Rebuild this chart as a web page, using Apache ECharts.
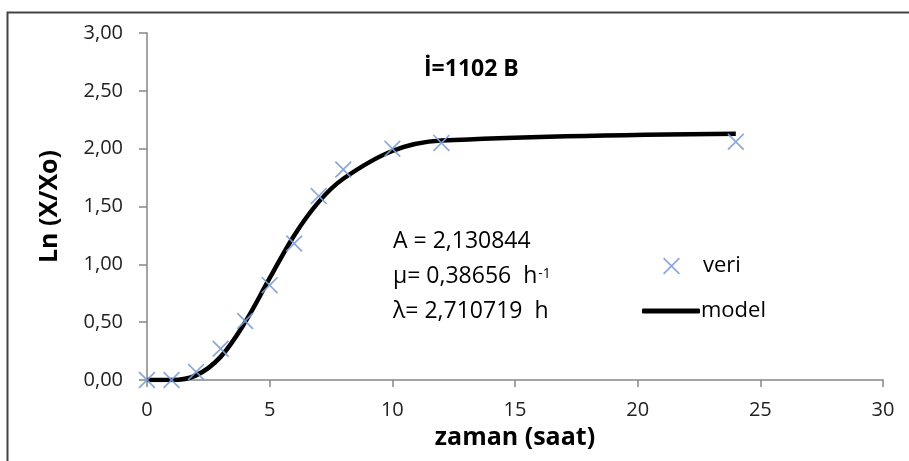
<!DOCTYPE html>
<html lang="tr">
<head>
    <meta charset="UTF-8">
    <title>Ln (X/Xo)</title>
    <script src="https://cdn.jsdelivr.net/npm/echarts@6/dist/echarts.min.js"></script>
    <style>
        html, body { margin: 0; padding: 0; background: #fff; }
        #main { width: 909px; height: 461px; }
    </style>
</head>
<body>
<div id="main"></div>
<script type="text/javascript">
    // zaman (saat)
    var zaman = [0, 1, 2, 3, 4, 5, 6, 7, 8, 10, 12, 24];
    // veri - measured points
    var veri = [0.00, 0.00, 0.07, 0.27, 0.51, 0.82, 1.18, 1.59, 1.82, 2.00, 2.05, 2.06];
    // model - fitted curve read at the same times
    var model = [0.00, 0.00, 0.04, 0.20, 0.50, 0.88, 1.25, 1.54, 1.74, 1.98, 2.07, 2.13];

    var xTicks = [0, 5, 10, 15, 20, 25, 30];
    var yTicks = [0, 0.5, 1, 1.5, 2, 2.5, 3];

    var veriData = zaman.map(function (t, i) { return [t, veri[i]]; });
    var modelData = zaman.map(function (t, i) { return [t, model[i]]; });

    var crossPath = 'path://M0,0.7L0.7,0L5,4.3L9.3,0L10,0.7L5.7,5L10,9.3L9.3,10L5,5.7L0.7,10L0,9.3L4.3,5Z';
    var fontFam = '"Open Sans", Lato, sans-serif';

    var myChart = echarts.init(document.getElementById('main'), null, { renderer: 'canvas' });

    var option = {
        backgroundColor: '#fff',
        animation: false,
        grid: { left: 147, right: 26, top: 33, bottom: 81 },
        xAxis: {
            type: 'value',
            min: xTicks[0],
            max: xTicks[xTicks.length - 1],
            interval: 5,
            name: 'zaman (saat)',
            nameLocation: 'middle',
            nameGap: 44,
            nameTextStyle: { fontFamily: fontFam, fontWeight: 'bold', fontSize: 25, color: '#000' },
            axisLine: { lineStyle: { color: '#868686', width: 1.5 } },
            axisTick: { show: true, length: 7, lineStyle: { color: '#868686', width: 1.5 } },
            axisLabel: { fontFamily: fontFam, fontSize: 20, color: '#222', margin: 20 },
            splitLine: { show: false }
        },
        yAxis: {
            type: 'value',
            min: yTicks[0],
            max: yTicks[yTicks.length - 1],
            interval: 0.5,
            name: 'Ln (X/Xo)',
            nameLocation: 'middle',
            nameGap: 85,
            nameRotate: 90,
            nameTextStyle: { fontFamily: fontFam, fontWeight: 'bold', fontSize: 25, color: '#000' },
            axisLine: { show: true, lineStyle: { color: '#868686', width: 1.5 } },
            axisTick: { show: true, length: 8, lineStyle: { color: '#868686', width: 1.5 } },
            axisLabel: {
                fontFamily: fontFam, fontSize: 20, color: '#222', margin: 24,
                formatter: function (v) { return v.toFixed(2).replace('.', ','); }
            },
            splitLine: { show: false }
        },
        legend: [
            {
                data: [{ name: 'veri', icon: crossPath }],
                left: 658, top: 250,
                itemWidth: 17, itemHeight: 17,
                textStyle: { fontFamily: fontFam, fontSize: 22, color: '#000', padding: [0, 0, 0, 18] },
                selectedMode: false
            },
            {
                data: [{ name: 'model', icon: 'roundRect' }],
                left: 637, top: 295,
                itemWidth: 58, itemHeight: 5,
                textStyle: { fontFamily: fontFam, fontSize: 22, color: '#000', padding: [0, 0, 0, -4] },
                selectedMode: false
            }
        ],
        graphic: [
            {
                type: 'rect', left: 5, top: 10,
                shape: { width: 940, height: 480 },
                style: { fill: 'none', stroke: '#444', lineWidth: 2 },
                silent: true
            },
            {
                type: 'text', left: 424, top: 58,
                style: { text: 'İ=1102 B', fontFamily: fontFam, fontWeight: 'bold', fontSize: 23, fill: '#000' }
            },
            {
                type: 'text', left: 393, top: 230,
                style: { text: 'A = 2,130844', fontFamily: fontFam, fontSize: 23, fill: '#000' }
            },
            {
                type: 'text', left: 393, top: 265,
                style: {
                    text: '{a|μ= 0,38656  h}{s|-1}',
                    rich: {
                        a: { fontFamily: fontFam, fontSize: 23, fill: '#000', color: '#000' },
                        s: { fontFamily: fontFam, fontSize: 14, fill: '#000', color: '#000', verticalAlign: 'top', padding: [2, 0, 0, 1] }
                    }
                }
            },
            {
                type: 'text', left: 393, top: 300,
                style: { text: 'λ= 2,710719  h', fontFamily: fontFam, fontSize: 23, fill: '#000' }
            }
        ],
        series: [
            {
                name: 'model',
                type: 'line',
                data: modelData,
                smooth: 0.35,
                showSymbol: false,
                symbol: 'none',
                lineStyle: { color: '#000', width: 4.5 },
                itemStyle: { color: '#000' },
                z: 2
            },
            {
                name: 'veri',
                type: 'scatter',
                data: veriData,
                symbol: crossPath,
                symbolSize: 17,
                itemStyle: { color: '#7d9fd3', opacity: 0.9 },
                z: 3
            }
        ]
    };
    myChart.setOption(option);
</script>
</body>
</html>
